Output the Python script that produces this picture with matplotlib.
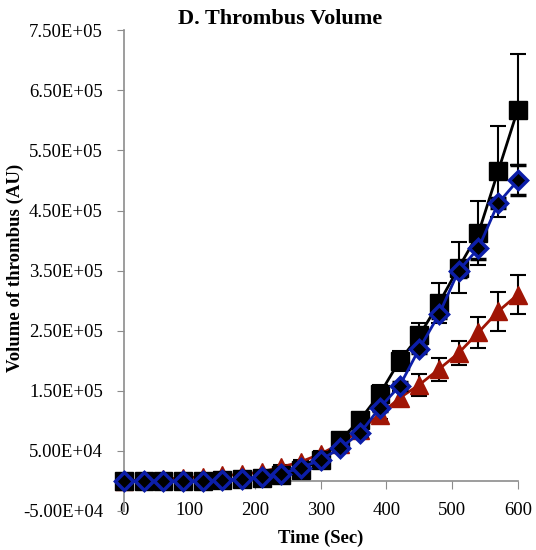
import matplotlib
matplotlib.use("Agg")
import matplotlib.pyplot as plt
import numpy as np

plt.rcParams['font.family'] = ['Liberation Serif', 'DejaVu Serif']

# time points (sec)
time = [0, 30, 60, 90, 120, 150, 180, 210, 240, 270, 300,
        330, 360, 390, 420, 450, 480, 510, 540, 570, 600]

# black squares
black_y = [0, 0, 0, 0, 0, 2e3, 3e3, 5e3, 9e3, 1.8e4, 3.5e4,
           6.8e4, 1.02e5, 1.45e5, 2.0e5, 2.42e5, 2.96e5, 3.55e5, 4.12e5, 5.15e5, 6.18e5]
black_err = [0, 0, 0, 0, 0, 1e3, 1e3, 2e3, 3e3, 4e3, 6e3,
             8e3, 1.0e4, 1.5e4, 1.7e4, 2.0e4, 3.3e4, 4.3e4, 5.3e4, 7.5e4, 9.2e4]

# red triangles
red_y = [0, 2e3, 3e3, 5e3, 7e3, 9e3, 1.1e4, 1.5e4, 2.3e4, 3.2e4, 4.5e4,
         6.2e4, 8.5e4, 1.1e5, 1.38e5, 1.6e5, 1.86e5, 2.13e5, 2.47e5, 2.82e5, 3.1e5]
red_err = [0, 1e3, 1e3, 1e3, 1e3, 1e3, 2e3, 2e3, 3e3, 3e3, 4e3,
           5e3, 6e3, 7e3, 1.1e4, 1.8e4, 1.9e4, 2.0e4, 2.5e4, 3.3e4, 3.3e4]

# blue diamonds
blue_y = [0, 0, 0, 0, 0, 1e3, 3e3, 7e3, 1.2e4, 2.2e4, 3.5e4,
          5.5e4, 8.0e4, 1.22e5, 1.58e5, 2.2e5, 2.77e5, 3.5e5, 3.87e5, 4.62e5, 5.0e5]
blue_err = [0, 0, 0, 0, 0, 1e3, 1e3, 1e3, 2e3, 2e3, 3e3,
            4e3, 5e3, 5e3, 6e3, 7e3, 6e3, 1.0e4, 1.7e4, 8e3, 2.5e4]

yticks = np.arange(-5e4, 7.5e5 + 1, 1e5)
ytick_labels = ['-5.00E+04', '5.00E+04', '1.50E+05', '2.50E+05', '3.50E+05',
                '4.50E+05', '5.50E+05', '6.50E+05', '7.50E+05']
xticks = [0, 100, 200, 300, 400, 500, 600]

fig = plt.figure(figsize=(5.36, 5.5), dpi=100)
ax = fig.add_axes([0.231, 0.071, 0.735, 0.874])

red = '#a01505'
blue = '#0c1ea8'

ax.errorbar(time, red_y, yerr=red_err, color=red, marker='^', markersize=13,
            markeredgecolor=red, lw=2, ecolor='black', elinewidth=1.5,
            capsize=6, capthick=1.5, clip_on=False, zorder=3)
ax.errorbar(time, black_y, yerr=black_err, color='black', marker='s', markersize=13,
            lw=2, ecolor='black', elinewidth=1.5, capsize=6, capthick=1.5,
            clip_on=False, zorder=4)
ax.errorbar(time, blue_y, yerr=blue_err, color=blue, marker='D', markersize=9.5,
            markerfacecolor='black', markeredgecolor=blue, markeredgewidth=2.5,
            lw=2, ecolor='black', elinewidth=1.5, capsize=6, capthick=1.5,
            clip_on=False, zorder=5)

ax.set_xlim(0, 600)
ax.set_ylim(-5e4, 7.5e5)
ax.set_yticks(yticks)
ax.set_yticklabels(ytick_labels)
ax.set_xticks(xticks)

ax.spines['top'].set_visible(False)
ax.spines['right'].set_visible(False)
ax.spines['left'].set_color('#8c8c8c')
ax.spines['bottom'].set_color('#8c8c8c')
ax.spines['bottom'].set_position(('data', 0))
ax.spines['left'].set_linewidth(1.2)
ax.spines['bottom'].set_linewidth(1.2)

ax.tick_params(axis='y', direction='out', length=5, color='#8c8c8c', labelsize=13.5, pad=10)
ax.tick_params(axis='x', direction='out', length=6, color='#8c8c8c', labelsize=13.5, pad=9)

fig.text(280 / 536, 1 - 19 / 550, 'D. Thrombus Volume', fontsize=16,
         fontweight='bold', ha='center', va='center')
fig.text(321 / 536, 1 - 538 / 550, 'Time (Sec)', fontsize=13.5,
         fontweight='bold', ha='center', va='center')
fig.text(15 / 536, 1 - 268 / 550, 'Volume of thrombus (AU)', fontsize=13.5,
         fontweight='bold', ha='center', va='center', rotation=90)

fig.savefig('out.png', dpi=100)
